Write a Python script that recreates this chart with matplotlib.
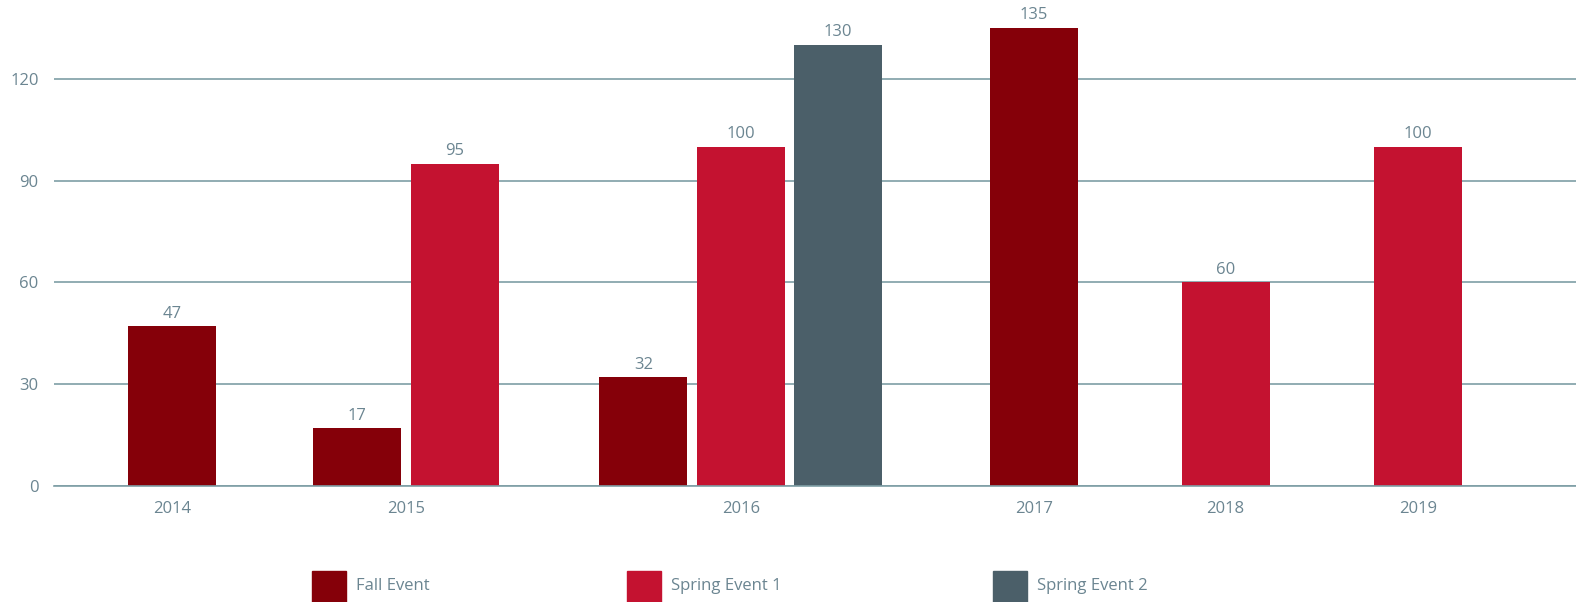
import matplotlib
matplotlib.use('Agg')
import matplotlib.pyplot as plt
from matplotlib.patches import Rectangle

years = ['2014', '2015', '2016', '2017', '2018', '2019']
fall_event = [47, 17, 32, 135, None, None]
spring_event_1 = [None, 95, 100, None, 60, 100]
spring_event_2 = [None, None, 130, None, None, None]

series_names = ['Fall Event', 'Spring Event 1', 'Spring Event 2']
series_colors = ['#850009', '#c41230', '#4b5f69']
text_color = '#6b8591'
grid_color = '#7e9ea5'

# extra empty space (in bar slots) before each year group
group_gaps = [0, 0.90, 0.94, 1.01, 0.97, 0.98]

plt.rcParams['font.family'] = ['Open Sans', 'DejaVu Sans']

fig = plt.figure(figsize=(15.76, 6.02), dpi=100)
ax = fig.add_axes([54 / 1576, 1 - 486 / 602, 1 - 54 / 1576, 486 / 602])

all_series = [fall_event, spring_event_1, spring_event_2]
slot = 0
group_centers = []
bar_width = 0.904
for i, year in enumerate(years):
    slot += group_gaps[i]
    xs = []
    for s, values in enumerate(all_series):
        v = values[i]
        if v is None:
            continue
        ax.bar(slot, v, width=bar_width, color=series_colors[s], zorder=3)
        ax.annotate(str(v), (slot, v), xytext=(0, 6), textcoords='offset points',
                    ha='center', va='baseline', fontsize=12, color=text_color)
        xs.append(slot)
        slot += 1
    group_centers.append(sum(xs) / len(xs))

ax.set_xlim(-1.216, 14.42)
ax.set_ylim(0, 143.2)
ax.set_yticks([0, 30, 60, 90, 120])
ax.set_xticks(group_centers)
ax.set_xticklabels(years)
ax.tick_params(axis='both', length=0, labelsize=12, labelcolor=text_color)
ax.tick_params(axis='y', pad=11)
ax.tick_params(axis='x', pad=11)
ax.grid(axis='y', color=grid_color, linewidth=1.2, zorder=1)
ax.axhline(0, color=grid_color, linewidth=1.2, zorder=4, clip_on=False)
for sp in ax.spines.values():
    sp.set_visible(False)

# legend drawn by hand, entries are spaced unevenly
legend_x = [312, 627, 993]
for name, color, px in zip(series_names, series_colors, legend_x):
    fig.patches.append(Rectangle((px / 1576, 0), 34 / 1576, 31 / 602,
                                 transform=fig.transFigure, color=color))
    fig.text((px + 44) / 1576, 1 - 586 / 602, name, fontsize=12,
             color=text_color, va='center', ha='left')

plt.savefig('out.png', dpi=100)
